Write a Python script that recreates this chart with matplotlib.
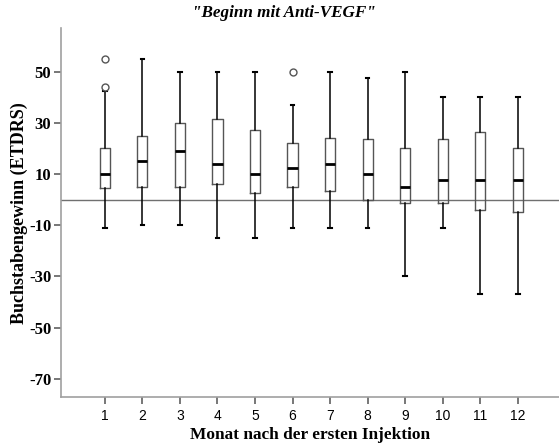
import matplotlib
matplotlib.use("Agg")
import matplotlib.pyplot as plt

months = [1, 2, 3, 4, 5, 6, 7, 8, 9, 10, 11, 12]
q1 = [4.5, 5, 5, 6, 2.5, 5, 3.5, 0, -1.3, -1.3, -4, -5]
med = [10, 15, 19, 13.8, 10, 12.5, 13.8, 10, 5, 7.6, 7.6, 7.6]
q3 = [20, 25, 30, 31.3, 27, 22, 24.2, 23.8, 20, 23.8, 26.3, 20]
whislo = [-11, -10, -10, -15, -15, -11, -11, -11, -30, -11, -37, -37]
whishi = [42.5, 55, 50, 50, 50, 37, 50, 47.3, 50, 40, 40, 40]
fliers = [[44, 55], [], [], [], [], [50], [], [], [], [], [], []]
yticks = [50, 30, 10, -10, -30, -50, -70]

stats = []
for i in range(len(months)):
    stats.append(dict(med=med[i], q1=q1[i], q3=q3[i], whislo=whislo[i],
                      whishi=whishi[i], fliers=fliers[i], label=str(months[i])))

fig = plt.figure(figsize=(5.59, 4.48), dpi=100)
ax = fig.add_axes([0.109, 0.113, 0.891, 0.8245])

gray = "#555555"
ax.bxp(stats, positions=months, widths=0.27,
       boxprops=dict(color=gray, linewidth=1.0),
       medianprops=dict(color="black", linewidth=2.0),
       whiskerprops=dict(color="black", linewidth=1.1),
       capprops=dict(color="black", linewidth=1.5),
       flierprops=dict(marker="o", markerfacecolor="white", markeredgecolor=gray,
                       markersize=5, markeredgewidth=1.0),
       capwidths=0.1)

ax.axhline(0, color="#707070", linewidth=1.0, zorder=0)

ax.set_xlim(-0.17, 13.1)
ax.set_ylim(-77.2, 67)
ax.set_yticks(yticks)
ax.set_yticklabels([str(t) for t in yticks], family="Liberation Serif",
                   fontweight="bold", fontsize=12)
ax.set_xticks(months)
ax.set_xticklabels([str(m) for m in months], family="Liberation Sans", fontsize=10)

for s in ["top", "right"]:
    ax.spines[s].set_visible(False)
for s in ["left", "bottom"]:
    ax.spines[s].set_color("#a0a0a0")
    ax.spines[s].set_linewidth(1.2)
ax.tick_params(axis="both", direction="out", length=5, width=1.2, color="#606060")
ax.tick_params(axis="y", pad=2)

ax.set_ylabel("Buchstabengewinn (ETDRS)", family="Liberation Serif",
              fontweight="bold", fontsize=13, labelpad=1)
ax.set_xlabel("Monat nach der ersten Injektion", family="Liberation Serif",
              fontweight="bold", fontsize=12.4, labelpad=3)
fig.text(0.507, 0.971, '"Beginn mit Anti-VEGF"', family="Liberation Serif",
         fontweight="bold", style="italic", fontsize=12.3, ha="center", va="center")

fig.savefig("out.png", dpi=100)
